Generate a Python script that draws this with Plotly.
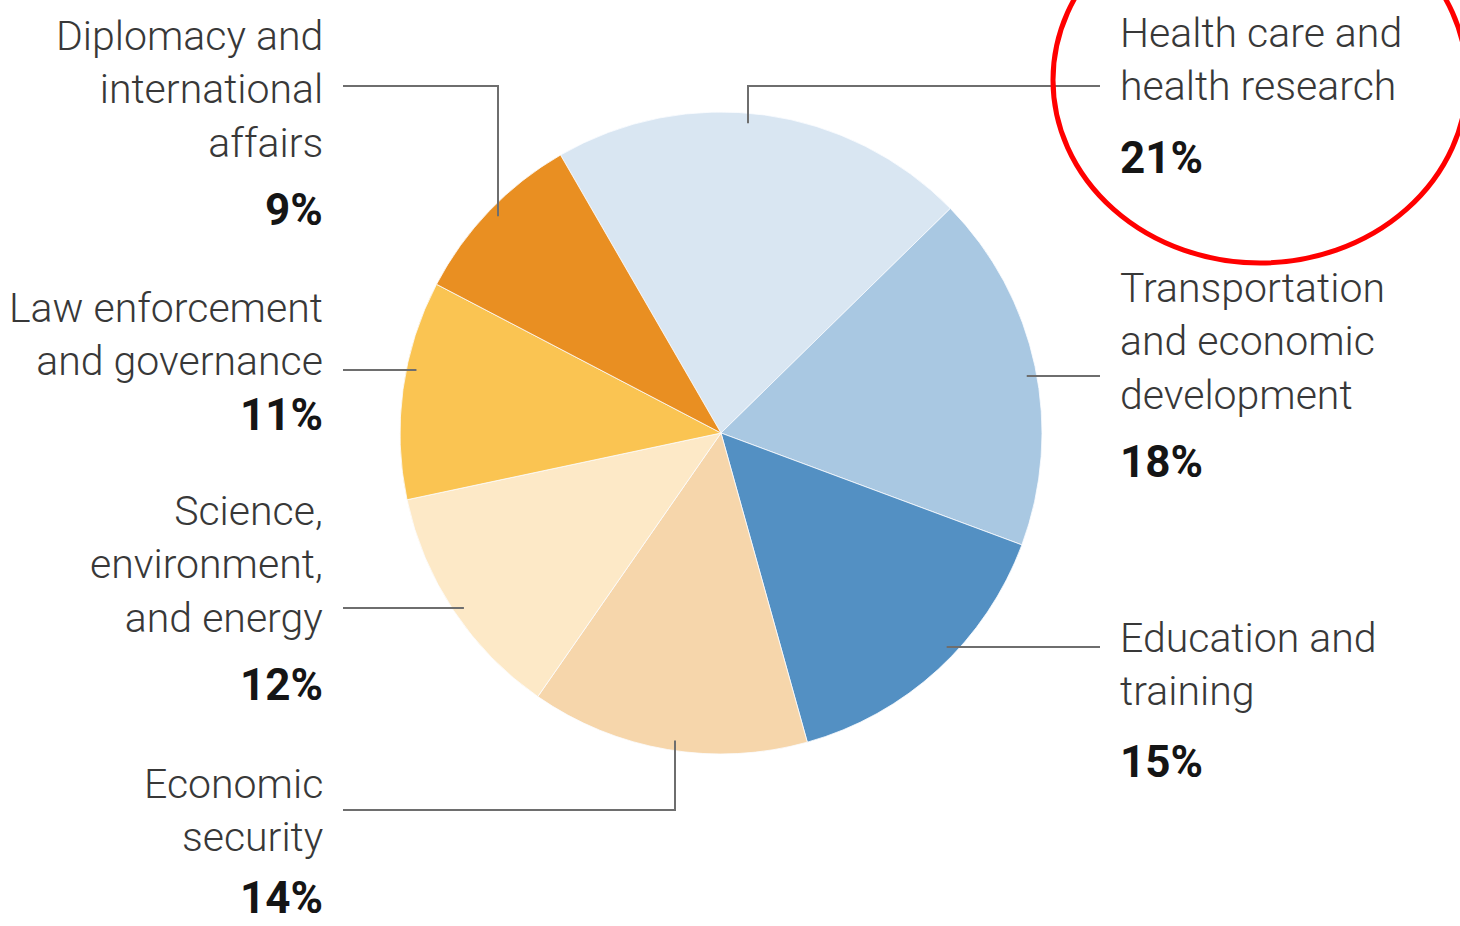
"""pie chart of the share of topics, labels outside with elbow leader lines"""
import math
import plotly.graph_objects as go

W, H = 1460, 926

# data
categories = ['Health care and<br>health research',
              'Transportation<br>and economic<br>development',
              'Education and<br>training',
              'Economic<br>security',
              'Science,<br>environment,<br>and energy',
              'Law enforcement<br>and governance',
              'Diplomacy and<br>international<br>affairs']
shares = [21, 18, 15, 14, 12, 11, 9]
colors = ['#d9e6f2', '#a9c8e2', '#5390c3', '#f6d6ab', '#fde9c7', '#fac452', '#e98f22']

# pie placement (pixels)
cx, cy, r = 721, 433, 321

# label layout: side, first baseline, percent baseline, leader (kind, coord, elbow y)
label_pos = [
    ('right', 47, 173, ('v', 748, 86)),
    ('right', 302, 477, ('h', 376, None)),
    ('right', 652, 777, ('h', 647, None)),
    ('left', 798, 913, ('v', 675, 810)),
    ('left', 525, 700, ('h', 608, None)),
    ('left', 322, 430, ('h', 370, None)),
    ('left', 50, 225, ('v', 498, 86)),
]
LEFT_X, RIGHT_X = 325, 1118
LINE_LEFT, LINE_RIGHT = 343, 1100
FS, PFS = 41, 44


def px(x):
    return x / W


def py(y):
    return 1 - y / H


fig = go.Figure()
fig.add_trace(go.Pie(values=shares, labels=categories, sort=False, direction='clockwise',
                     rotation=-30, textinfo='none', hoverinfo='label+percent',
                     marker=dict(colors=colors, line=dict(color='#fbfdff', width=0.8)),
                     domain=dict(x=[px(cx - r), px(cx + r)], y=[py(cy + r), py(cy - r)]),
                     showlegend=False))

shapes = []
annotations = []
rr = r - 10
for cat, val, (side, base, pbase, lead) in zip(categories, shares, label_pos):
    end_x = LINE_RIGHT if side == 'right' else LINE_LEFT
    kind, c, elbow = lead
    if kind == 'h':
        dx = math.sqrt(rr**2 - (c - cy)**2)
        sx = cx + dx if side == 'right' else cx - dx
        path = f'M {px(sx)},{py(c)} L {px(end_x)},{py(c)}'
    else:
        dy = math.sqrt(rr**2 - (c - cx)**2)
        sy = cy - dy if elbow < cy else cy + dy
        path = f'M {px(c)},{py(sy)} L {px(c)},{py(elbow)} L {px(end_x)},{py(elbow)}'
    shapes.append(dict(type='path', xref='paper', yref='paper', path=path,
                       line=dict(color='#6e6e6e', width=2)))

    tx = RIGHT_X if side == 'right' else LEFT_X
    anchor = 'left' if side == 'right' else 'right'
    annotations.append(dict(x=px(tx), y=py(base - 0.93 * FS - 2), xref='paper', yref='paper',
                            text=cat, showarrow=False, xanchor=anchor, yanchor='top', align=anchor,
                            font=dict(family='Roboto', size=FS, color='#383838', weight=300)))
    annotations.append(dict(x=px(tx), y=py(pbase - 0.93 * PFS - 2), xref='paper', yref='paper',
                            text=f'{val}%', showarrow=False, xanchor=anchor, yanchor='top', align=anchor,
                            font=dict(family='Roboto', size=PFS, color='#151515', weight='bold')))

# red highlight ellipse round the health care label
shapes.append(dict(type='circle', xref='paper', yref='paper',
                   x0=px(1053), x1=px(1467), y0=py(263), y1=py(-103),
                   line=dict(color='#ff0000', width=5)))

fig.update_layout(width=W, height=H, margin=dict(l=0, r=0, t=0, b=0),
                  paper_bgcolor='white', plot_bgcolor='white',
                  shapes=shapes, annotations=annotations)

# page body margin off so the figure sits at the window's corner
fig.write_html("out.html", config={'displayModeBar': False},
               post_script="document.body.style.margin='0px';")
